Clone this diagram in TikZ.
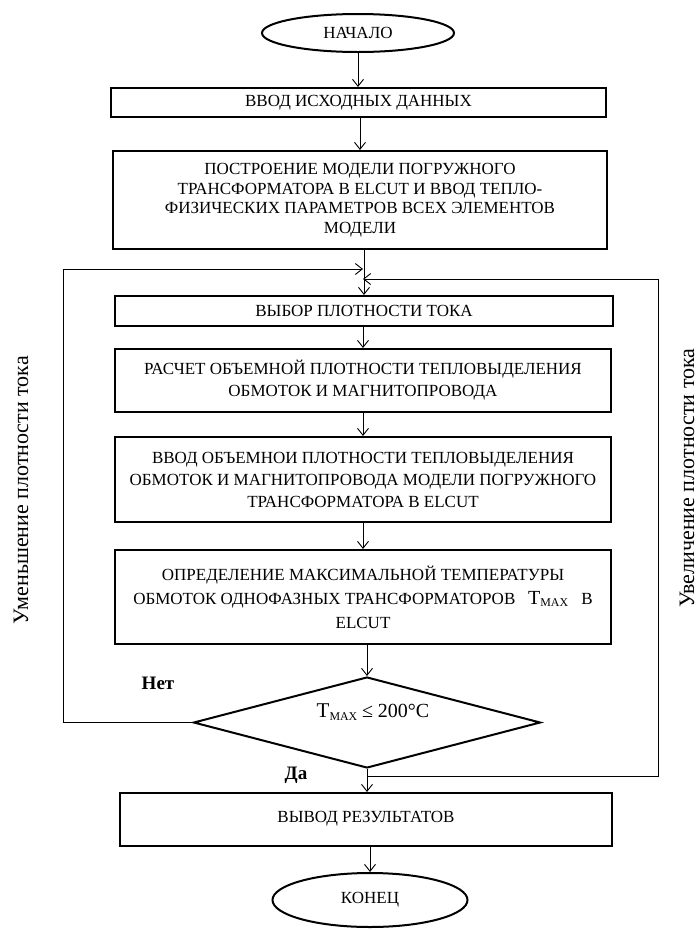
\documentclass[tikz,border=0pt]{standalone}
\usepackage{fontspec}
\setmainfont{Liberation Serif}
\usetikzlibrary{arrows.meta,shapes.geometric}
\begin{document}
\begin{tikzpicture}[x=1pt,y=-1pt,
  txt/.style={font=\fontsize{17}{19.5}\selectfont},
  box/.style={draw,line width=2pt,align=center,inner sep=0pt,txt},
  term/.style={draw,ellipse,line width=2pt,inner sep=0pt,txt},
  dec/.style={draw,diamond,line width=2pt,inner sep=0pt},
  lbl/.style={font=\fontsize{19}{22}\selectfont\bfseries},
  arr/.style={line width=0.9pt,-{Straight Barb[length=7pt,width=11pt]}},
  side/.style={rotate=90,font=\fontsize{22}{24}\selectfont}]
\useasboundingbox (0,0) rectangle (697,930);
\fill[white] (0,0) rectangle (697,930);
\node[term,minimum width=192pt,minimum height=38pt] (start) at (358,33) {НАЧАЛО};
\node[box,minimum width=495pt,minimum height=29pt] (b1) at (358.5,102.5) {ВВОД ИСХОДНЫХ ДАННЫХ};
\node[box,minimum width=494pt,minimum height=98pt] (b2) at (360,200) {ПОСТРОЕНИЕ МОДЕЛИ ПОГРУЖНОГО\\ТРАНСФОРМАТОРА В ELCUT И ВВОД ТЕПЛО-\\ФИЗИЧЕСКИХ ПАРАМЕТРОВ ВСЕХ ЭЛЕМЕНТОВ\\МОДЕЛИ};
\node[box,minimum width=498pt,minimum height=30pt] (b3) at (364,311) {ВЫБОР ПЛОТНОСТИ ТОКА};
\node[box,minimum width=496pt,minimum height=63pt,font=\fontsize{17}{22}\selectfont] (b4) at (363,380.5) {РАСЧЕТ ОБЪЕМНОЙ ПЛОТНОСТИ ТЕПЛОВЫДЕЛЕНИЯ\\ОБМОТОК И МАГНИТОПРОВОДА};
\node[box,minimum width=496pt,minimum height=85pt,font=\fontsize{17}{22}\selectfont] (b5) at (363,479.5) {ВВОД ОБЪЕМНОИ ПЛОТНОСТИ ТЕПЛОВЫДЕЛЕНИЯ\\ОБМОТОК И МАГНИТОПРОВОДА МОДЕЛИ ПОГРУЖНОГО\\ТРАНСФОРМАТОРА В ELCUT};
\node[box,minimum width=496pt,minimum height=94pt,font=\fontsize{17}{24}\selectfont] (b6) at (363,597) {ОПРЕДЕЛЕНИЕ МАКСИМАЛЬНОЙ ТЕМПЕРАТУРЫ\\ОБМОТОК ОДНОФАЗНЫХ ТРАНСФОРМАТОРОВ \ \ {\fontsize{20}{22}\selectfont T}\textsubscript{MAX} \ \ В\\ELCUT};
\node[dec,minimum width=347pt,minimum height=91pt] (d) at (367,722.5) {};
\node[txt] (dt) at (373,712) {{\fontsize{21}{22}\selectfont T}{\fontsize{17}{19}\selectfont\textsubscript{MAX}} {\fontsize{20}{22}\selectfont ≤ 200°C}};
\node[box,minimum width=492pt,minimum height=53pt] (b7) at (366,819.5) {\raisebox{5pt}{ВЫВОД РЕЗУЛЬТАТОВ}};
\node[term,minimum width=195pt,minimum height=54pt] (end) at (370,900) {КОНЕЦ};
\node[lbl] (no) at (158,683) {Нет};
\node[lbl] (yes) at (296,775) {Да};
\node[side] (ldec) at (21,490) {Уменьшение плотности тока};
\node[side] (linc) at (687,478) {Увеличение плотности тока};
\coordinate (jl) at (363,269);
\coordinate (jr) at (363,279);
\coordinate (dl) at (367,776);
\draw[arr] (start.south) -- (start.south |- b1.north);
\draw[arr] (b1.south -| b2.north) -- (b2.north);
\draw[arr] (b3.north |- b2.south) -- (b3.north);
\draw[arr] (b3.south -| b4.north) -- (b4.north);
\draw[arr] (b4.south) -- (b5.north);
\draw[arr] (b5.south) -- (b6.north);
\draw[arr] (b6.south -| d.north) -- (d.north);
\draw[arr] (d.west) -- (63,722.5) |- (jl);
\draw[arr] (dl) -- (658,776) |- (jr);
\draw[arr] (d.south) -- (d.south |- b7.north);
\draw[arr] (b7.south -| end.north) -- (end.north);
\end{tikzpicture}
\end{document}
